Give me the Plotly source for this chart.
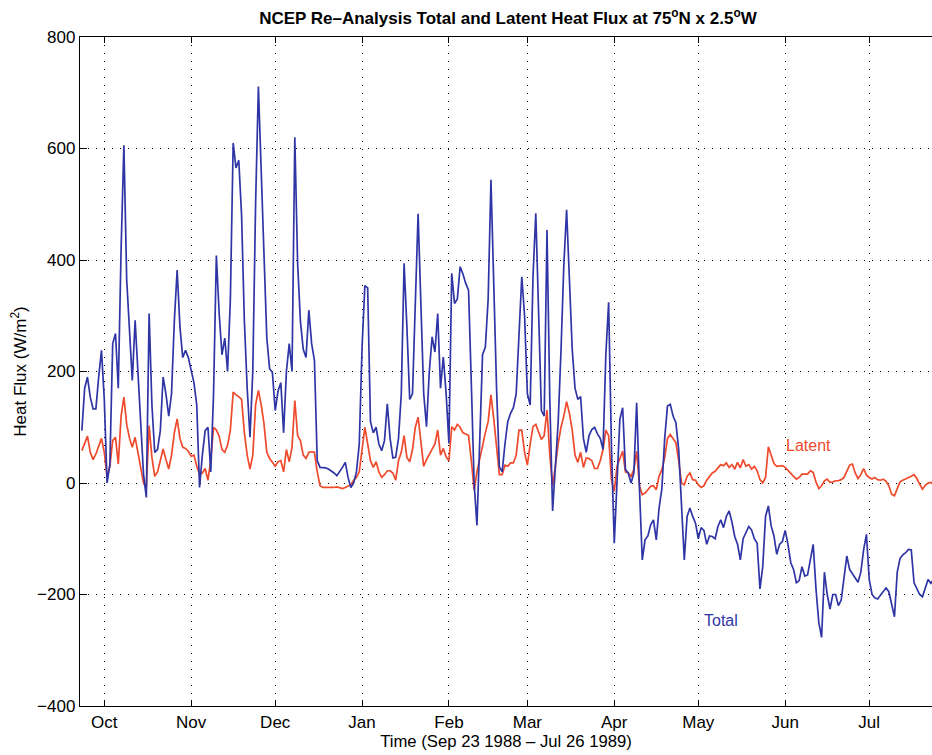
import pandas as pd
import plotly.graph_objects as go

# Daily NCEP reanalysis heat flux at 75N, 2.5W (W/m^2), starting 23 Sep 1988
start_date = "1988-09-23"

total_flux = [
    94, 170, 190, 154, 133, 133, 190, 238, 150, 0,
    34, 250, 268, 170, 420, 606, 364, 268, 184, 292,
    200, 110, 16, -26, 304, 140, 55, 60, 94, 190,
    160, 120, 160, 290, 382, 280, 225, 238, 225, 202,
    180, 140, -8, 50, 94, 100, 20, 160, 408, 304,
    230, 260, 200, 330, 610, 565, 579, 480, 290, 170,
    82, 200, 500, 711, 560, 400, 260, 205, 198, 130,
    165, 180, 90, 200, 250, 200, 620, 394, 290, 240,
    225, 310, 250, 220, 40, 28, 28, 27, 25, 22,
    18, 13, 20, 28, 37, 10, -8, 0, 20, 70,
    244, 354, 350, 110, 90, 100, 70, 58, 76, 142,
    80, 45, 46, 80, 160, 394, 280, 150, 160, 330,
    483, 320, 160, 101, 200, 262, 235, 304, 170, 226,
    160, 71, 376, 322, 330, 388, 375, 358, 346, 178,
    -1, -76, 100, 230, 244, 330, 544, 330, 170, 29,
    20, 70, 110, 125, 135, 160, 260, 370, 300, 160,
    140, 370, 484, 300, 130, 120, 454, 150, -50, 30,
    110, 238, 390, 490, 360, 240, 170, 150, 155, 80,
    55, 85, 96, 100, 88, 80, 60, 230, 324, 66,
    -108, 0, 114, 135, 24, 18, 0, 18, 144, -10,
    -138, -102, -95, -75, -66, -102, -45, -10, 80, 138,
    141, 120, 108, 60, -40, -138, -60, -45, -60, -72,
    -100, -80, -85, -110, -95, -96, -100, -78, -66, -80,
    -60, -50, -70, -96, -110, -138, -100, -90, -78, -84,
    -100, -108, -190, -150, -60, -41, -77, -95, -128, -110,
    -105, -85, -110, -143, -155, -179, -175, -150, -167, -165,
    -140, -110, -190, -250, -277, -160, -200, -226, -200, -200,
    -220, -210, -170, -131, -155, -163, -170, -178, -160, -120,
    -92, -173, -200, -206, -208, -202, -196, -188, -195, -220,
    -240, -160, -135, -129, -125, -119, -120, -179, -190, -200,
    -204, -190, -173, -180, -173, -180,
]

latent_flux = [
    58, 70, 84, 55, 42, 52, 65, 80, 55, 10,
    30, 76, 82, 34, 120, 154, 105, 80, 64, 82,
    55, 30, 0, -10, 103, 46, 12, 20, 40, 61,
    42, 25, 50, 90, 115, 80, 64, 62, 57, 48,
    50, 30, 16, 18, 26, 5, 40, 100, 95, 84,
    60, 55, 68, 95, 163, 158, 155, 150, 90, 50,
    25, 50, 140, 166, 140, 106, 55, 44, 37, 30,
    38, 40, 20, 60, 38, 64, 148, 85, 76, 50,
    44, 55, 56, 55, 20, -5, -8, -8, -9, -9,
    -8, -7, -9, -10, -8, -5, -3, 5, 10, 20,
    60, 100, 70, 40, 28, 38, 20, 10, 15, 22,
    22, 18, 5, 40, 55, 85, 46, 38, 60, 100,
    118, 70, 30, 42, 52, 60, 70, 95, 50, 62,
    47, 40, 101, 95, 105, 100, 90, 88, 85, 40,
    -13, 20, 45, 65, 90, 110, 158, 115, 60, 15,
    15, 32, 30, 36, 36, 50, 95, 95, 55, 32,
    70, 101, 105, 90, 78, 85, 131, 50, -5, 30,
    71, 100, 120, 146, 125, 95, 50, 37, 55, 28,
    45, 44, 40, 26, 26, 40, 60, 95, 85, 5,
    -15, 30, 45, 57, 20, 18, 12, 24, 57, -5,
    -21, -18, -12, -6, -5, -12, 12, 24, 45, 80,
    87, 80, 72, 40, 0, -3, 12, 18, 6, 5,
    -3, -8, -5, 5, 12, 18, 21, 28, 33, 31,
    36, 28, 33, 25, 37, 27, 42, 30, 33, 25,
    30, 22, 6, 0, 10, 65, 50, 35, 30, 30,
    31, 28, 22, 16, 12, 7, 10, 16, 16, 16,
    22, 19, 2, -10, -5, 4, 7, 1, 2, 4,
    4, 6, 10, 20, 32, 34, 18, 8, 15, 26,
    14, 10, 7, 10, 6, 5, 7, 3, -5, -20,
    -23, -10, 2, 5, 7, 9, 12, 15, 8, -2,
    -11, -4, 0, 1, -3, -6,
]

month_ticks = ["1988-10-01", "1988-11-01", "1988-12-01", "1989-01-01", "1989-02-01",
               "1989-03-01", "1989-04-01", "1989-05-01", "1989-06-01", "1989-07-01"]
month_labels = ["Oct", "Nov", "Dec", "Jan", "Feb", "Mar", "Apr", "May", "Jun", "Jul"]

x_total = pd.date_range(start_date, periods=len(total_flux), freq="D")
x_latent = pd.date_range(start_date, periods=len(latent_flux), freq="D")

BLUE = "#3035a6"
RED = "#ef4a2c"
FONT = "Liberation Sans, Arial, Helvetica, sans-serif"

fig = go.Figure()
fig.add_trace(go.Scatter(x=x_latent, y=latent_flux, mode="lines",
                         line=dict(color=RED, width=1.7), name="Latent"))
fig.add_trace(go.Scatter(x=x_total, y=total_flux, mode="lines",
                         line=dict(color=BLUE, width=1.7), name="Total"))

fig.add_annotation(x="1989-05-31 14:00", y=68, text="Latent", showarrow=False,
                   xanchor="left", yanchor="middle",
                   font=dict(family=FONT, size=16, color=RED))
fig.add_annotation(x="1989-05-02 06:00", y=-246, text="Total", showarrow=False,
                   xanchor="left", yanchor="middle",
                   font=dict(family=FONT, size=16, color=BLUE))

fig.update_layout(
    width=932, height=755,
    margin=dict(l=80, r=0, t=37, b=49),
    paper_bgcolor="white", plot_bgcolor="white",
    showlegend=False,
    font=dict(family=FONT, size=17, color="black"),
    title=dict(
        text="<b>NCEP Re\u2013Analysis Total and Latent Heat Flux at 75<sup>o</sup>N x 2.5<sup>o</sup>W</b>",
        x=0.545, xanchor="center", y=0.976, yanchor="middle",
        font=dict(family=FONT, size=17, color="black"),
    ),
    xaxis=dict(
        type="date",
        range=["1988-09-22 08:00", "1989-07-23 09:40"],
        tickvals=month_ticks, ticktext=month_labels,
        ticks="inside", ticklen=6, tickwidth=1.3, tickcolor="black",
        showline=True, linecolor="black", linewidth=1.4, mirror="ticks",
        showgrid=True, gridcolor="black", gridwidth=1, griddash="1px,7px",
        zeroline=False,
        tickfont=dict(family=FONT, size=17),
        title=dict(text="Time (Sep 23 1988 \u2013 Jul 26 1989)", standoff=4,
                   font=dict(family=FONT, size=16.7)),
    ),
    yaxis=dict(
        range=[-400, 800], dtick=200,
        ticks="inside", ticklen=7, tickwidth=1.3, tickcolor="black",
        showline=True, linecolor="black", linewidth=1.4, mirror=False,
        showgrid=True, gridcolor="black", gridwidth=1, griddash="1px,7px",
        zeroline=False,
        tickfont=dict(family=FONT, size=17),
        title=dict(text="Heat Flux (W/m<sup>2</sup>)", standoff=6,
                   font=dict(family=FONT, size=17)),
    ),
)

fig.write_html("out.html")
